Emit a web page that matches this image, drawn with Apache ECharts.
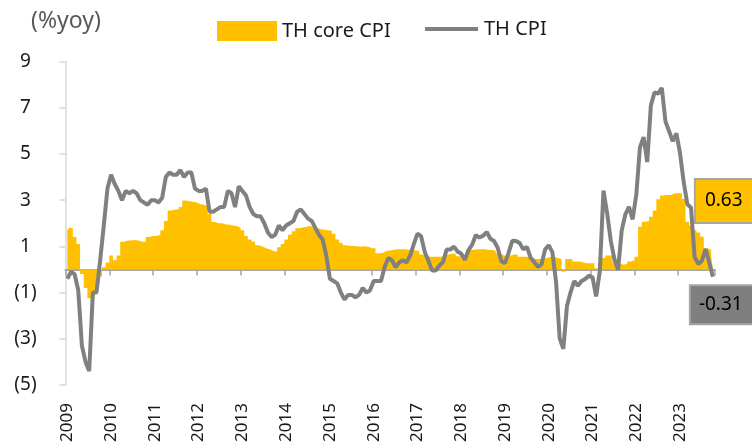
<!DOCTYPE html>
<html><head><meta charset="utf-8">
<script src="https://cdn.jsdelivr.net/npm/echarts@6/dist/echarts.min.js"></script>
<style>html,body{margin:0;padding:0;background:#fff}#c{width:752px;height:448px}</style>
</head><body><div id="c"></div>
<script>
const years = [2009,2010,2011,2012,2013,2014,2015,2016,2017,2018,2019,2020,2021,2022,2023];
const lastMonthOfLastYear = 10;
const coreCPI = [
 1.7,1.8,1.4,1.1,-0.2,-0.8,-1.25,-1.2,-0.9,-0.3,0.1,0.3,
 0.6,0.4,0.6,1.2,1.25,1.25,1.28,1.25,1.2,1.2,1.4,1.45,
 1.45,1.5,1.7,2.1,2.55,2.6,2.6,2.7,2.98,2.95,2.93,2.9,
 2.82,2.8,2.75,2.4,2.05,2.0,2.0,1.95,1.93,1.9,1.88,1.8,
 1.7,1.45,1.3,1.2,1.05,0.99,0.92,0.87,0.8,0.77,0.96,1.1,
 1.3,1.5,1.65,1.78,1.82,1.85,1.88,1.85,1.8,1.74,1.72,1.7,
 1.68,1.55,1.3,1.15,1.05,1.02,1.02,1.0,0.98,1.0,0.98,0.92,
 0.92,0.7,0.72,0.8,0.82,0.85,0.87,0.87,0.87,0.85,0.85,0.82,
 0.81,0.65,0.62,0.55,0.55,0.55,0.55,0.6,0.65,0.68,0.68,0.57,
 0.55,0.55,0.84,0.85,0.87,0.87,0.87,0.84,0.84,0.8,0.7,0.63,
 0.55,0.6,0.65,0.65,0.55,0.55,0.55,0.5,0.45,0.45,0.45,0.5,
 0.55,0.55,0.5,0.45,-0.1,0.45,0.45,0.34,0.34,0.3,0.27,0.27,
 0.27,0.05,0.3,0.5,0.6,0.6,0.3,0.27,0.2,0.25,0.35,0.4,
 0.55,1.85,2.07,2.1,2.28,2.55,3.04,3.2,3.22,3.22,3.3,3.3,
 3.3,3.05,2.07,1.9,1.71,1.6,1.42,0.92,0.85,0.63
];
const headlineCPI = [
 -0.4,-0.1,-0.2,-0.9,-3.3,-4.0,-4.4,-1.0,-1.0,0.4,1.9,3.5,
 4.1,3.7,3.4,3.0,3.4,3.3,3.4,3.3,3.0,2.9,2.8,3.0,
 3.0,2.9,3.1,4.0,4.2,4.1,4.1,4.3,4.0,4.2,4.2,3.5,
 3.4,3.4,3.5,2.5,2.5,2.6,2.7,2.7,3.4,3.3,2.7,3.6,
 3.4,3.2,2.7,2.4,2.3,2.3,2.0,1.6,1.4,1.5,1.9,1.7,
 1.9,2.0,2.1,2.5,2.6,2.4,2.2,2.1,1.8,1.5,1.3,0.6,
 -0.4,-0.5,-0.6,-1.0,-1.3,-1.1,-1.1,-1.2,-1.1,-0.8,-1.0,-0.9,
 -0.5,-0.5,-0.5,0.1,0.5,0.4,0.1,0.3,0.4,0.3,0.6,1.1,
 1.55,1.44,0.76,0.38,-0.04,-0.05,0.17,0.32,0.86,0.86,0.99,0.78,
 0.68,0.42,0.84,1.07,1.49,1.38,1.46,1.62,1.33,1.23,0.94,0.36,
 0.27,0.73,1.24,1.23,1.15,0.87,0.98,0.52,0.32,0.11,0.21,0.87,
 1.05,0.74,-0.54,-2.99,-3.44,-1.57,-0.98,-0.50,-0.70,-0.50,-0.41,-0.27,
 -0.34,-1.17,-0.08,3.41,2.44,1.25,0.45,-0.02,1.68,2.38,2.71,2.17,
 3.23,5.28,5.73,4.65,7.10,7.66,7.61,7.86,6.41,5.98,5.55,5.89,
 5.02,3.79,2.83,2.67,0.53,0.23,0.38,0.88,0.30,-0.31
];
const yTicks = [9,7,5,3,1,-1,-3,-5];

const categories = [];
years.forEach(function(y, yi){
  const n = (yi === years.length - 1) ? lastMonthOfLastYear : 12;
  for (let m = 1; m <= n; m++) categories.push(y + '-' + String(m).padStart(2,'0'));
});

const FONT = '"Noto Sans", "DejaVu Sans", sans-serif';
const GOLD = '#FFC000';
const GREY = '#808080';

const chart = echarts.init(document.getElementById('c'), null, {renderer: 'canvas'});
chart.setOption({
  animation: false,
  backgroundColor: '#fff',
  textStyle: {fontFamily: FONT},
  title: {text: '(%yoy)', left: 26, top: 5,
    textStyle: {fontSize: 23, fontWeight: 'normal', color: '#595959', fontFamily: FONT}},
  legend: [
    {data: [{name: 'TH core CPI', icon: 'rect'}], left: 217, top: 21, padding: 0, itemWidth: 60, itemHeight: 20,
     itemStyle: {color: GOLD},
     textStyle: {fontSize: 20, color: '#1a1a1a', fontFamily: FONT}},
    {data: [{name: 'TH CPI', icon: 'rect'}], left: 425, top: 19, padding: 0, itemWidth: 53, itemHeight: 4,
     itemStyle: {color: GREY},
     textStyle: {fontSize: 20, color: '#1a1a1a', fontFamily: FONT, padding: [0, 0, 0, 1]}}
  ],
  grid: {left: 65.5, right: 37.3, top: 61.5, bottom: 63},
  xAxis: [
    {type: 'category', data: categories, boundaryGap: true,
     axisLine: {show: true, onZero: true, lineStyle: {color: '#a6a6a6', width: 2}},
     axisTick: {show: true, interval: function(i){ return i % 12 === 0; }, length: 6,
       lineStyle: {color: '#a6a6a6', width: 1.5}},
     axisLabel: {show: false}, splitLine: {show: false}},
    {type: 'category', data: categories, position: 'bottom', boundaryGap: true,
     axisLine: {show: false, onZero: false}, axisTick: {show: false},
     axisLabel: {interval: function(i){ return i % 12 === 0; },
       formatter: function(v){ return v.slice(0, 4); },
       rotate: 90, fontSize: 17, margin: 18, color: '#1a1a1a', fontFamily: FONT},
     splitLine: {show: false}}
  ],
  yAxis: {type: 'value', min: yTicks[yTicks.length - 1], max: yTicks[0], interval: 2,
    axisLine: {show: true, lineStyle: {color: '#d9d9d9', width: 1.5}},
    axisTick: {show: true, length: 6, lineStyle: {color: '#d9d9d9', width: 1.5}},
    splitLine: {show: false},
    axisLabel: {formatter: function(v){ return v < 0 ? '(' + (-v) + ')' : String(v); },
      fontSize: 19, color: '#1a1a1a', align: 'center', margin: 40, fontFamily: FONT}},
  series: [
    {name: 'TH core CPI', type: 'line', step: 'middle', xAxisIndex: 0, data: coreCPI,
     showSymbol: false, symbol: 'none',
     lineStyle: {width: 0, color: GOLD, opacity: 0},
     areaStyle: {color: GOLD, opacity: 1},
     itemStyle: {color: GOLD}, z: 2,
     endLabel: {show: true, distance: 0, offset: [-17, -54],
       formatter: function(p){ return Number(p.value).toFixed(2); },
       backgroundColor: GOLD, borderColor: '#a6a6a6', borderWidth: 2,
       padding: [12, 12, 11, 9], fontSize: 19, color: '#000', fontFamily: FONT}},
    {name: 'TH CPI', type: 'line', xAxisIndex: 0, data: headlineCPI, showSymbol: false, symbol: 'none',
     lineStyle: {color: GREY, width: 4}, itemStyle: {color: GREY}, z: 3,
     endLabel: {show: true, distance: 0, offset: [-22, 28],
       formatter: function(p){ return Number(p.value).toFixed(2); },
       backgroundColor: '#7f7f7f', borderColor: '#a6a6a6', borderWidth: 2,
       padding: [10, 12, 8, 8], fontSize: 19, color: '#000', fontFamily: FONT}}
  ]
});
</script></body></html>
